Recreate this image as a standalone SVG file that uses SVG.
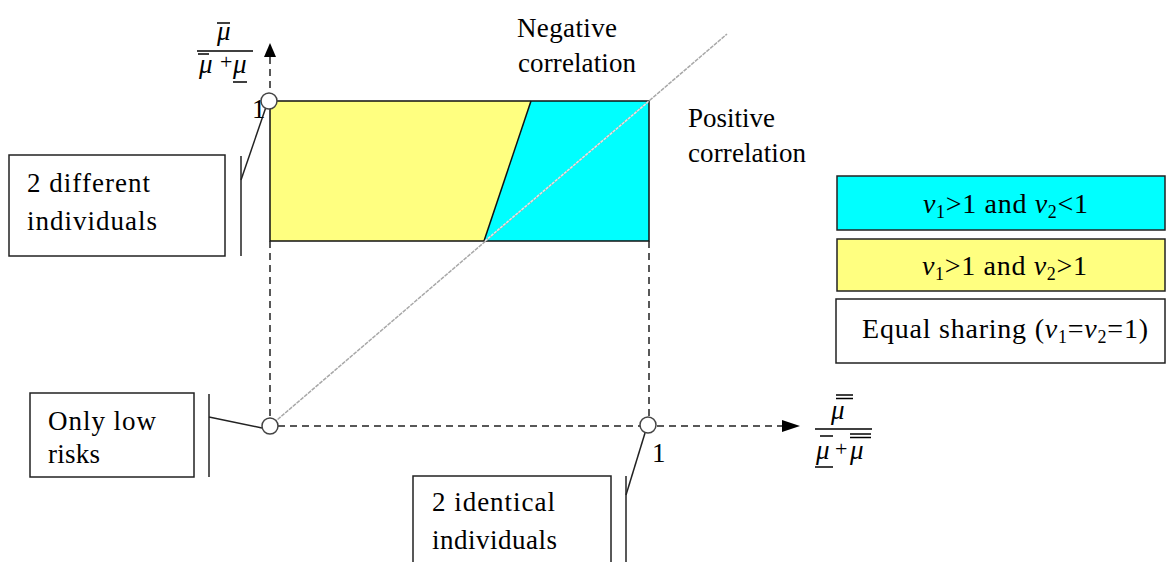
<svg xmlns="http://www.w3.org/2000/svg" width="1166" height="562" viewBox="0 0 1166 562">
<style>
  .t { font-family: "Liberation Serif", "Times New Roman", serif; font-size: 27px; fill: #000; }
  .lg { font-family: "Liberation Serif", "Times New Roman", serif; font-size: 28px; fill: #000; }
  .mu { font-family: "Liberation Serif", "Times New Roman", serif; font-size: 27px; font-style: italic; fill: #000; }
  .pl { font-family: "Liberation Serif", "Times New Roman", serif; font-size: 22px; fill: #000; }
  .box { fill: #fff; stroke: #222; stroke-width: 1.5; }
  .bar { stroke: #222; stroke-width: 1.5; fill: none; }
  .dash { stroke: #222; stroke-width: 1.5; stroke-dasharray: 7 5; fill: none; }
  .ml { stroke: #000; stroke-width: 1.5; }
  .pt { fill: #fff; stroke: #444; stroke-width: 1.5; }
  .sub { font-size: 18px; }
  .it { font-style: italic; }
</style>

<g id="regions">
  <polygon points="270,101 531,101 484,241 270,241" fill="#FFFF80"/>
  <polygon points="531,101 649,101 649,241 484,241" fill="#00FFFF"/>
  <rect x="270" y="101" width="379" height="140" fill="none" stroke="#111" stroke-width="1.5"/>
  <line x1="531" y1="101" x2="484" y2="241" stroke="#111" stroke-width="1.5"/>
</g>

<g id="connectors">
  <line x1="270" y1="426" x2="727" y2="34" stroke="#a8a8a8" stroke-width="1.5" stroke-dasharray="4 1"/>
  <line x1="485" y1="241" x2="648" y2="102" stroke="#e4e4e4" stroke-width="1.5" stroke-dasharray="3 1"/>
  <line class="dash" x1="270" y1="57" x2="270" y2="92"/>
  <line class="dash" x1="270" y1="241" x2="270" y2="418"/>
  <polygon points="270,43 264,57 276,57" fill="#000"/>
  <line class="dash" x1="278" y1="426" x2="641" y2="426"/>
  <line class="dash" x1="657" y1="426" x2="783" y2="426"/>
  <polygon points="800,426 782,420 782,432" fill="#000"/>
  <line class="dash" x1="649" y1="241" x2="649" y2="418"/>
  <line class="bar" x1="241" y1="180" x2="266" y2="107"/>
  <line class="bar" x1="209" y1="417" x2="262" y2="428"/>
  <line class="bar" x1="626" y1="495" x2="645" y2="433"/>
</g>

<g id="points">
  <circle class="pt" cx="269" cy="101" r="8"/>
  <circle class="pt" cx="270" cy="426" r="8"/>
  <circle class="pt" cx="648" cy="425" r="8"/>
  <text class="t" x="252" y="118">1</text>
  <text class="t" x="652" y="462">1</text>
</g>

<g id="label-negative">
  <text class="t" x="517" y="37" textLength="100" lengthAdjust="spacing">Negative</text>
  <text class="t" x="518" y="72" textLength="118" lengthAdjust="spacing">correlation</text>
</g>

<g id="label-positive">
  <text class="t" x="688" y="127" textLength="87" lengthAdjust="spacing">Positive</text>
  <text class="t" x="688" y="162" textLength="118" lengthAdjust="spacing">correlation</text>
</g>

<g id="callout-different">
  <rect class="box" x="9" y="155" width="216" height="101"/>
  <line class="bar" x1="241" y1="156" x2="241" y2="256"/>
  <text class="t" x="27" y="192" textLength="123" lengthAdjust="spacing">2 different</text>
  <text class="t" x="27" y="230" textLength="130" lengthAdjust="spacing">individuals</text>
</g>

<g id="callout-low">
  <rect class="box" x="30" y="393" width="164" height="84"/>
  <line class="bar" x1="209" y1="394" x2="209" y2="477"/>
  <text class="t" x="48" y="430" textLength="108" lengthAdjust="spacing">Only low</text>
  <text class="t" x="48" y="463" textLength="52" lengthAdjust="spacing">risks</text>
</g>

<g id="callout-identical">
  <rect class="box" x="413" y="476" width="198" height="100"/>
  <line class="bar" x1="626" y1="476" x2="626" y2="562"/>
  <text class="t" x="432" y="511" textLength="123" lengthAdjust="spacing">2 identical</text>
  <text class="t" x="432" y="549" textLength="125" lengthAdjust="spacing">individuals</text>
</g>

<g id="y-label">
  <text class="mu" x="217" y="40">μ</text>
  <line class="ml" x1="217" y1="23" x2="230" y2="23"/>
  <line class="ml" x1="197" y1="51" x2="253" y2="51"/>
  <line class="ml" x1="198" y1="54" x2="209" y2="54"/>
  <text class="mu" x="199" y="73">μ</text>
  <text class="pl" x="220" y="69">+</text>
  <text class="mu" x="233" y="73">μ</text>
  <line class="ml" x1="233" y1="82" x2="247" y2="82"/>
</g>

<g id="x-label">
  <text class="mu" x="831" y="419">μ</text>
  <line class="ml" x1="836" y1="395" x2="853" y2="395"/>
  <line class="ml" x1="836" y1="398.5" x2="853" y2="398.5"/>
  <line class="ml" x1="815" y1="429" x2="872" y2="429"/>
  <line class="ml" x1="820" y1="436" x2="833" y2="436"/>
  <text class="mu" x="816" y="459">μ</text>
  <text class="pl" x="835" y="456">+</text>
  <text class="mu" x="850" y="459">μ</text>
  <line class="ml" x1="850" y1="434" x2="871" y2="434"/>
  <line class="ml" x1="850" y1="437.5" x2="871" y2="437.5"/>
  <line class="ml" x1="815" y1="467" x2="833" y2="467"/>
</g>

<g id="legend-cyan">
  <rect x="837" y="176" width="328" height="54" fill="#00FFFF" stroke="#222" stroke-width="1.5"/>
  <text class="lg" x="923" y="213" textLength="165" lengthAdjust="spacing"><tspan class="it">v</tspan><tspan class="sub" dy="5">1</tspan><tspan dy="-5">&gt;1 and </tspan><tspan class="it">v</tspan><tspan class="sub" dy="5">2</tspan><tspan dy="-5">&lt;1</tspan></text>
</g>

<g id="legend-yellow">
  <rect x="837" y="239" width="328" height="52" fill="#FFFF80" stroke="#222" stroke-width="1.5"/>
  <text class="lg" x="922" y="275" textLength="165" lengthAdjust="spacing"><tspan class="it">v</tspan><tspan class="sub" dy="5">1</tspan><tspan dy="-5">&gt;1 and </tspan><tspan class="it">v</tspan><tspan class="sub" dy="5">2</tspan><tspan dy="-5">&gt;1</tspan></text>
</g>

<g id="legend-white">
  <rect x="836" y="299" width="329" height="64" fill="#fff" stroke="#222" stroke-width="1.5"/>
  <text class="lg" x="862" y="338" textLength="286" lengthAdjust="spacing">Equal sharing (<tspan class="it">v</tspan><tspan class="sub" dy="5">1</tspan><tspan dy="-5">=</tspan><tspan class="it">v</tspan><tspan class="sub" dy="5">2</tspan><tspan dy="-5">=1)</tspan></text>
</g>
</svg>
